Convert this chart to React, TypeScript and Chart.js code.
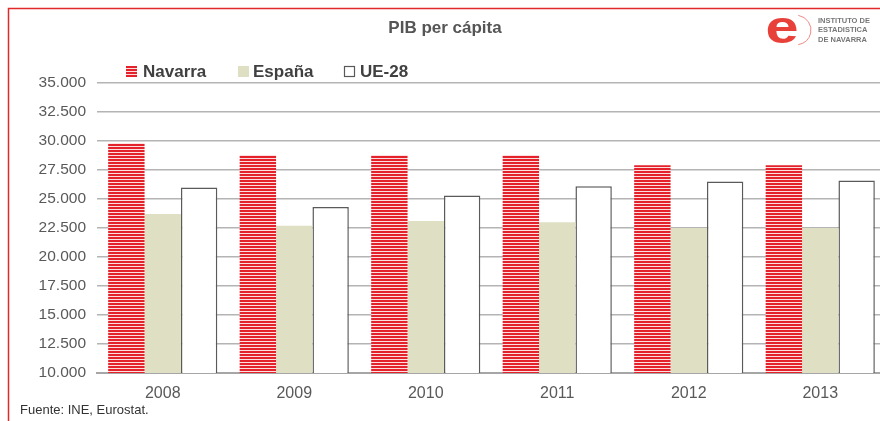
import React, { useEffect, useRef } from "react";
import { Chart, registerables } from "chart.js";

Chart.register(...registerables);

const categories = ["2008", "2009", "2010", "2011", "2012", "2013"];
const navarra = [29800, 28800, 28800, 28800, 27900, 27900];
const espana = [23700, 22700, 23100, 23000, 22500, 22500];
const ue28 = [26000, 24300, 25300, 26100, 26500, 26600];
const seriesLabels = ["Navarra", "España", "UE-28"];
const titleText = "PIB per cápita";
const sourceText = "Fuente: INE, Eurostat.";
const logoLines = ["INSTITUTO DE", "ESTADISTICA", "DE NAVARRA"];

const RED = "#e3222b";
const BEIGE = "#dfe0c3";
const GRID = "#b4b4b4";
const FONT = "Arial, 'Liberation Sans', sans-serif";

function makeStripePattern(): CanvasPattern | string {
  const c = document.createElement("canvas");
  c.width = 4;
  c.height = 3;
  const g = c.getContext("2d");
  if (!g) return RED;
  g.fillStyle = "#fcdede";
  g.fillRect(0, 0, 4, 3);
  g.fillStyle = RED;
  g.fillRect(0, 0, 4, 2);
  const p = g.createPattern(c, "repeat");
  return p || RED;
}

function fmt(v: number): string {
  const s = Math.round(v).toString();
  return s.replace(/\B(?=(\d{3})+(?!\d))/g, ".");
}

export default function App() {
  const ref = useRef<HTMLCanvasElement | null>(null);

  useEffect(() => {
    const canvas = ref.current;
    if (!canvas) return;
    const stripes = makeStripePattern();

    const decor = {
      id: "decor",
      beforeDraw(chart: any) {
        const ctx = chart.ctx as CanvasRenderingContext2D;
        ctx.save();
        ctx.fillStyle = "#ffffff";
        ctx.fillRect(0, 0, chart.width, chart.height);
        ctx.restore();
      },
      afterDatasetsDraw(chart: any) {
        const ctx = chart.ctx as CanvasRenderingContext2D;
        const meta = chart.getDatasetMeta(0);
        ctx.save();
        ctx.fillStyle = "#c00000";
        meta.data.forEach((b: any) => {
          const w = b.width;
          ctx.fillRect(b.x - w / 2, b.base - 3, w, 3);
        });
        ctx.restore();
      },
      afterDraw(chart: any) {
        const ctx = chart.ctx as CanvasRenderingContext2D;
        ctx.save();
        // border
        ctx.strokeStyle = "#e02a2a";
        ctx.lineWidth = 1.5;
        ctx.beginPath();
        ctx.moveTo(8.5, 421);
        ctx.lineTo(8.5, 8.5);
        ctx.lineTo(900, 8.5);
        ctx.stroke();

        // title
        ctx.fillStyle = "#555555";
        ctx.font = `bold 17px ${FONT}`;
        ctx.textAlign = "center";
        ctx.textBaseline = "middle";
        ctx.fillText(titleText, 445, 28);

        // legend
        ctx.font = `bold 17px ${FONT}`;
        ctx.textAlign = "left";
        const items = [
          { x: 126, tx: 143, fill: stripes, stroke: null as string | null },
          { x: 238, tx: 253, fill: BEIGE, stroke: null },
          { x: 344, tx: 360, fill: "#ffffff", stroke: "#595959" },
        ];
        items.forEach((it, i) => {
          ctx.fillStyle = it.fill as any;
          ctx.fillRect(it.x, 66, 11, 11);
          if (it.stroke) {
            ctx.strokeStyle = it.stroke;
            ctx.lineWidth = 1.2;
            ctx.strokeRect(it.x + 0.5, 66.5, 10, 10);
          }
          ctx.fillStyle = "#404040";
          ctx.fillText(seriesLabels[i], it.tx, 72);
        });

        // logo
        ctx.save();
        ctx.translate(782, 43);
        ctx.scale(1.35, 1.05);
        ctx.fillStyle = "#e8413a";
        ctx.font = `bold 44px ${FONT}`;
        ctx.textAlign = "center";
        ctx.textBaseline = "alphabetic";
        ctx.fillText("e", 0, 0);
        ctx.restore();
        ctx.strokeStyle = "#f08a85";
        ctx.lineWidth = 1;
        ctx.beginPath();
        ctx.ellipse(795, 30, 16, 15, 0, -Math.PI / 2.3, Math.PI / 2.3);
        ctx.stroke();
        ctx.fillStyle = "#777777";
        ctx.font = `bold 7.5px ${FONT}`;
        ctx.textAlign = "left";
        ctx.textBaseline = "middle";
        logoLines.forEach((l, i) => ctx.fillText(l, 818, 21 + i * 9.3));

        // source
        ctx.fillStyle = "#333333";
        ctx.font = `13px ${FONT}`;
        ctx.textAlign = "left";
        ctx.fillText(sourceText, 20, 410);
        ctx.restore();
      },
    };

    const chart = new Chart(canvas, {
      type: "bar",
      data: {
        labels: categories,
        datasets: [
          {
            label: seriesLabels[0],
            data: navarra,
            backgroundColor: stripes as any,
            borderWidth: 0,
          },
          {
            label: seriesLabels[1],
            data: espana,
            backgroundColor: BEIGE,
            borderWidth: 0,
          },
          {
            label: seriesLabels[2],
            data: ue28,
            backgroundColor: "#ffffff",
            borderColor: "#5a5a5a",
            borderWidth: { top: 1.5, left: 1.5, right: 1.5, bottom: 0 } as any,
          },
        ],
      },
      options: {
        responsive: false,
        animation: false,
        layout: { padding: { top: 83, right: 14, bottom: 0, left: 0 } },
        datasets: {
          bar: { categoryPercentage: 0.83, barPercentage: 1.0 },
        },
        plugins: {
          legend: { display: false },
          title: { display: false },
          tooltip: { enabled: false },
        },
        scales: {
          x: {
            grid: { display: false, drawTicks: false },
            border: { display: true, color: "#a6a6a6", width: 2 },
            ticks: {
              color: "#595959",
              padding: 11,
              font: { family: FONT, size: 16 },
            },
            afterFit: (s: any) => {
              s.height = 48;
            },
          },
          y: {
            min: 10000,
            max: 35000,
            grid: { color: GRID, lineWidth: 1.5, drawTicks: false },
            border: { display: false },
            ticks: {
              stepSize: 2500,
              color: "#595959",
              padding: 11,
              font: { family: FONT, size: 15.5 },
              callback: (v: any) => fmt(Number(v)),
            },
            afterFit: (s: any) => {
              s.width = 97;
            },
          },
        },
      },
      plugins: [decor],
    });

    return () => chart.destroy();
  }, []);

  return (
    <div style={{ position: "fixed", left: 0, top: 0, width: 900, height: 421, overflow: "hidden" }}>
      <canvas ref={ref} width={900} height={421} style={{ display: "block" }} />
    </div>
  );
}
